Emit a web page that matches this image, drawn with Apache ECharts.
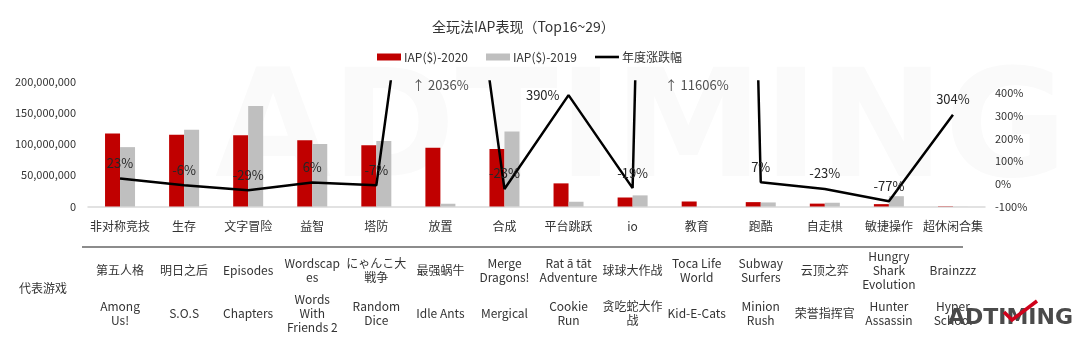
<!DOCTYPE html>
<html>
<head>
<meta charset="utf-8">
<script src="https://cdn.jsdelivr.net/npm/echarts@6/dist/echarts.min.js"></script>
<style>
html,body{margin:0;padding:0;background:#fff;}
#c{width:1080px;height:345px;}
</style>
</head>
<body>
<div id="c"></div>
<script>
const categories = ['非对称竞技','生存','文字冒险','益智','塔防','放置','合成','平台跳跃','io','教育','跑酷','自走棋','敏捷操作','超休闲合集'];
const iap2020 = [117e6,115e6,114e6,106e6,98e6,94e6,92e6,37e6,14.4e6,8e6,7e6,4.6e6,3.8e6,0.5e6];
const iap2019 = [95e6,123e6,161e6,100e6,105e6,4.4e6,120e6,7.6e6,17.8e6,0.07e6,6.5e6,6e6,16.5e6,0.12e6];
const growth = [23,-6,-29,6,-7,2036,-23,390,-19,11606,7,-23,-77,304];
const gamesRow1 = ['第五人格','明日之后','Episodes','Wordscap\nes','にゃんこ大\n戦争','最强蜗牛','Merge\nDragons!','Rat ā tāt\nAdventure','球球大作战','Toca Life\nWorld','Subway\nSurfers','云顶之弈','Hungry\nShark\nEvolution','Brainzzz'];
const gamesRow2 = ['Among\nUs!','S.O.S','Chapters','Words\nWith\nFriends 2','Random\nDice','Idle Ants','Mergical','Cookie\nRun','贪吃蛇大作\n战','Kid-E-Cats','Minion\nRush','荣誉指挥官','Hunter\nAssassin','Hyper\nSchool'];
const leftMin = 0, leftMax = 200e6, leftStep = 50e6;
const rightMin = -100, rightMax = 450, rightStep = 100;

const FONT = '"Noto Sans CJK SC", "Noto Sans", sans-serif';
const chart = echarts.init(document.getElementById('c'), null, {renderer: 'canvas'});

const gridL = 88, gridR = 95, gridT = 81.5, gridB = 138.5;

const lineData = growth.map(v => ({
  value: v,
  label: { position: (v > 350 && v <= rightMax) ? 'left' : 'top' }
}));
const offScale = growth.map(v => v > rightMax ? rightMax : null);

const option = {
  backgroundColor: '#fff',
  textStyle: { fontFamily: FONT },
  animation: false,
  title: {
    text: '全玩法IAP表现（Top16~29）',
    left: 427, top: 15,
    textStyle: { fontSize: 14, fontWeight: 'normal', color: '#333', fontFamily: FONT }
  },
  legend: {
    left: 372, top: 46,
    itemWidth: 24, itemHeight: 7, itemGap: 18,
    textStyle: { fontSize: 12, color: '#333', fontFamily: FONT, padding: [0,0,0,-2] },
    data: [
      { name: 'IAP($)-2020', icon: 'rect' },
      { name: 'IAP($)-2019', icon: 'rect' },
      { name: '年度涨跌幅', icon: 'path://M0,0H24V2.6H0Z' }
    ]
  },
  graphic: [
    { type: 'text', z: -10, left: 215, top: 62, silent: true,
      style: { text: 'ADTIMING', font: 'bold 150px "DejaVu Sans", sans-serif', fill: '#fafafa' } },
    { type: 'line', shape: { x1: 82, y1: 247, x2: 963, y2: 247 }, style: { stroke: '#8c8c8c', lineWidth: 2 } },
    { type: 'text', x: 43, y: 288, style: { text: '代表游戏', font: '12px ' + FONT, fill: '#333', align: 'center', verticalAlign: 'middle' } },
    { type: 'text', x: 948, y: 318, z: 100, style: { text: 'ADTIMING', font: 'bold 22px "DejaVu Sans", sans-serif', fill: '#4a4a4a', verticalAlign: 'middle' } },
    { type: 'polyline', z: 101, shape: { points: [[1004,312],[1012,320],[1037,301]] }, style: { stroke: '#d0021b', lineWidth: 3.5, fill: null } }
  ],
  grid: [
    { left: gridL, right: gridR, top: gridT, bottom: gridB },
    { left: gridL, right: gridR, top: gridT, bottom: gridB }
  ],
  xAxis: [
    { type: 'category', gridIndex: 0, position: 'bottom', data: categories,
      axisLine: { lineStyle: { color: '#d9d9d9', width: 1.5 } },
      axisTick: { show: false },
      axisLabel: { interval: 0, fontSize: 12, color: '#333', margin: 19.5, verticalAlign: 'middle' } },
    { type: 'category', gridIndex: 0, position: 'bottom', data: gamesRow1,
      axisLine: { show: false }, axisTick: { show: false },
      axisLabel: { interval: 0, fontSize: 12, color: '#333', margin: 63.5, verticalAlign: 'middle', lineHeight: 14, align: 'center' } },
    { type: 'category', gridIndex: 1, position: 'bottom', data: gamesRow2,
      axisLine: { show: false }, axisTick: { show: false },
      axisLabel: { interval: 0, fontSize: 12, color: '#333', margin: 107, verticalAlign: 'middle', lineHeight: 14, align: 'center' } }
  ],
  yAxis: [
    { type: 'value', gridIndex: 0, position: 'left', min: leftMin, max: leftMax, interval: leftStep,
      splitLine: { show: false }, axisLine: { show: false }, axisTick: { show: false },
      axisLabel: { fontSize: 11, color: '#333', margin: 12, formatter: v => v.toLocaleString('en-US') } },
    { type: 'value', gridIndex: 0, position: 'right', min: rightMin, max: rightMax, interval: rightStep,
      splitLine: { show: false }, axisLine: { show: false }, axisTick: { show: false },
      axisLabel: { fontSize: 11, color: '#333', margin: 10, formatter: v => (v % rightStep === 0 ? v + '%' : '') } },
    { type: 'value', gridIndex: 1, show: false }
  ],
  series: [
    { name: 'IAP($)-2020', type: 'bar', xAxisIndex: 0, yAxisIndex: 0, data: iap2020,
      barWidth: 15, barGap: '0%', itemStyle: { color: '#C00000' } },
    { name: 'IAP($)-2019', type: 'bar', xAxisIndex: 0, yAxisIndex: 0, data: iap2019,
      barWidth: 15, barGap: '0%', itemStyle: { color: '#BFBFBF' } },
    { name: '年度涨跌幅', type: 'line', xAxisIndex: 0, yAxisIndex: 1, data: lineData,
      symbol: 'circle', symbolSize: 0, showSymbol: true, showAllSymbol: true, clip: true, z: 5,
      lineStyle: { color: '#000', width: 2.5 }, itemStyle: { color: '#000' },
      label: { show: true, fontSize: 13, color: '#262626', distance: 9,
        formatter: p => (p.value > rightMax ? '' : p.value + '%') } },
    { name: 'offscale', type: 'scatter', xAxisIndex: 0, yAxisIndex: 1, data: offScale,
      symbolSize: 0, clip: false, z: 6, itemStyle: { color: '#000' },
      label: { show: true, position: 'inside', offset: [0, 4], fontSize: 13, color: '#262626',
        formatter: p => '↑ ' + growth[p.dataIndex] + '%' } }
  ]
};
chart.setOption(option);
</script>
</body>
</html>
